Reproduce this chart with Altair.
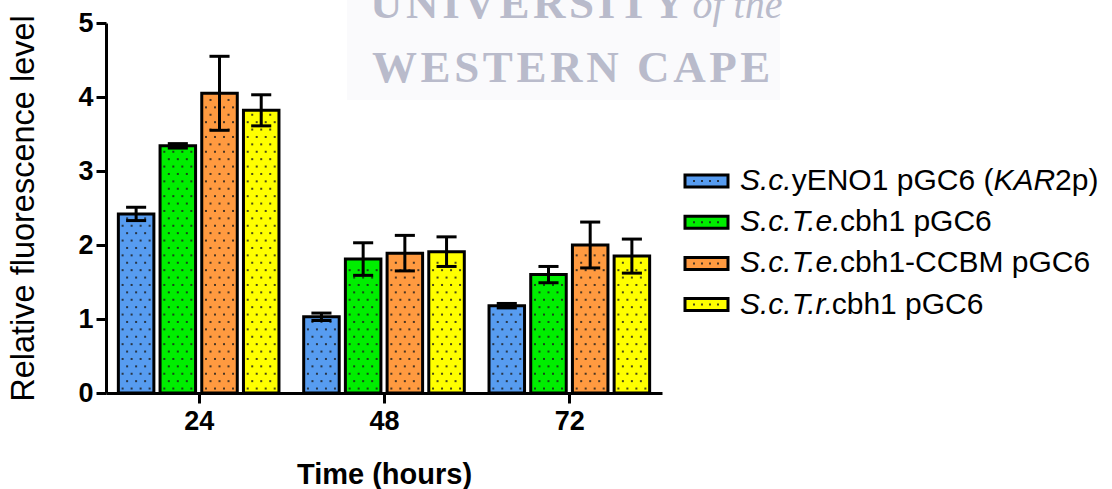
import altair as alt
import pandas as pd

# ---- data -------------------------------------------------------------
times = [24, 48, 72]
series = [
    "S.c.yENO1 pGC6 (KAR2p)",
    "S.c.T.e.cbh1 pGC6",
    "S.c.T.e.cbh1-CCBM pGC6",
    "S.c.T.r.cbh1 pGC6",
]
colors = ["#579cf0", "#00ee00", "#ff9a40", "#ffff00"]

# mean relative fluorescence at 24 / 48 / 72 h
mean_yeno1 = [2.42, 1.03, 1.18]
mean_te = [3.34, 1.81, 1.60]
mean_te_ccbm = [4.05, 1.89, 2.00]
mean_tr = [3.82, 1.91, 1.85]

# standard deviations at 24 / 48 / 72 h
sd_yeno1 = [0.09, 0.05, 0.03]
sd_te = [0.03, 0.22, 0.11]
sd_te_ccbm = [0.50, 0.24, 0.31]
sd_tr = [0.21, 0.20, 0.23]

# legend labels split into (text, italic) runs
legend_runs = [
    [("S.c.", True), ("yENO1 pGC6 (", False), ("KAR", True), ("2p)", False)],
    [("S.c.T.e.", True), ("cbh1 pGC6", False)],
    [("S.c.T.e.", True), ("cbh1-CCBM pGC6", False)],
    [("S.c.T.r.", True), ("cbh1 pGC6", False)],
]

watermark_lines = ["UNIVERSITY", "WESTERN CAPE"]
watermark_tail = "of the"

means = [mean_yeno1, mean_te, mean_te_ccbm, mean_tr]
sds = [sd_yeno1, sd_te, sd_te_ccbm, sd_tr]

# ---- layout -----------------------------------------------------------
FONT = "Liberation Sans"
W, H = 556, 370
PAD_L, PAD_T = 106, 23
PX_PER_H = W / 72.0
BAR_STEP = 5.4      # hours between neighbouring bars of a group
BAR_HALF = 2.3      # half bar width, hours
CAP_HALF = 1.3      # half error-cap width, hours

rows = []
dots = []
for si, (name, m, s) in enumerate(zip(series, means, sds)):
    off = (si - 1.5) * BAR_STEP
    for t, v, e in zip(times, m, s):
        c = t + off
        rows.append(dict(series=name, time=t, value=v, sd=e, xc=c,
                         x0=c - BAR_HALF, x1=c + BAR_HALF, base=0.0,
                         lo=v - e, hi=v + e, c0=c - CAP_HALF, c1=c + CAP_HALF))
        # stippled fill texture inside each bar
        k = 0
        y = 0.06
        while y < v - 0.05:
            cols_px = [-13.5, -4.5, 4.5, 13.5] if k % 2 == 0 else [-9.0, 0.0, 9.0]
            for px in cols_px:
                dots.append(dict(x=c + px / PX_PER_H, y=y))
            y += 0.1
            k += 1
df = pd.DataFrame(rows)
dots_df = pd.DataFrame(dots)

xs = alt.Scale(domain=[12, 84], nice=False, zero=False)
ys = alt.Scale(domain=[0, 5], nice=False)
cs = alt.Scale(domain=series, range=colors)
x_axis = alt.Axis(values=times, format="d", title="Time (hours)")
y_axis = alt.Axis(values=[0, 1, 2, 3, 4, 5], format="d",
                  title="Relative fluorescence level")

bars = alt.Chart(df).mark_rect(stroke="black", strokeWidth=3).encode(
    x=alt.X("x0:Q", scale=xs, axis=x_axis),
    x2="x1",
    y=alt.Y("value:Q", scale=ys, axis=y_axis),
    y2="base",
    color=alt.Color("series:N", scale=cs, legend=None),
)

stipple = alt.Chart(dots_df).mark_square(size=4, color="#1c1c1c", opacity=0.8).encode(
    x=alt.X("x:Q", scale=xs, axis=x_axis),
    y=alt.Y("y:Q", scale=ys, axis=y_axis),
)

err = alt.Chart(df).mark_rule(color="black", strokeWidth=3).encode(
    x=alt.X("xc:Q", scale=xs, axis=x_axis),
    y=alt.Y("lo:Q", scale=ys, axis=y_axis),
    y2="hi",
)
cap_hi = alt.Chart(df).mark_rule(color="black", strokeWidth=3).encode(
    x=alt.X("c0:Q", scale=xs, axis=x_axis), x2="c1",
    y=alt.Y("hi:Q", scale=ys, axis=y_axis),
)
cap_lo = alt.Chart(df).mark_rule(color="black", strokeWidth=3).encode(
    x=alt.X("c0:Q", scale=xs, axis=x_axis), x2="c1",
    y=alt.Y("lo:Q", scale=ys, axis=y_axis),
)

main = alt.layer(bars, stipple, err, cap_hi, cap_lo)

# ---- overlay (pixel-space scales): watermark + legend --------------------
lx = alt.Scale(domain=[0, 1000], range=[0, 1000], nice=False, zero=False)
ly = alt.Scale(domain=[0, 1000], range=[0, 1000], nice=False, zero=False)

# spaced serif watermark, laid out letter by letter
TIMES_B = {"U": 722, "N": 722, "I": 389, "V": 722, "E": 667, "R": 722,
           "S": 556, "T": 667, "Y": 722, "W": 1000, "C": 722, "A": 722,
           "P": 611, " ": 250}
WM_FS, WM_TRACK = 45, 3.6
WM_COLOR = "#b9bbcb"
wm_origins = [(264, -5.5), (266, 58.7)]
wm_letters = []
tail_x = 0
for line, (x0, yb) in zip(watermark_lines, wm_origins):
    pos = x0
    for ch in line:
        wm_letters.append(dict(ch=ch, x=pos, y=yb))
        pos += TIMES_B.get(ch, 667) / 1000.0 * WM_FS + WM_TRACK
    if line == watermark_lines[0]:
        tail_x = pos + 4
wm_df = pd.DataFrame(wm_letters)

wm_box = alt.Chart(pd.DataFrame({"x0": [241], "x1": [674], "y0": [-PAD_T], "y1": [77]})).mark_rect(
    color="#fafafc"
).encode(
    x=alt.X("x0:Q", scale=lx, axis=None), x2="x1",
    y=alt.Y("y0:Q", scale=ly, axis=None), y2="y1",
)
wm_text = alt.Chart(wm_df).mark_text(
    font="Liberation Serif", fontSize=WM_FS, fontWeight="bold", color=WM_COLOR,
    align="left", baseline="alphabetic",
).encode(
    x=alt.X("x:Q", scale=lx, axis=None),
    y=alt.Y("y:Q", scale=ly, axis=None),
    text="ch:N",
)
wm_tail = alt.Chart(pd.DataFrame({"t": [watermark_tail], "x": [tail_x], "y": [-5.5]})).mark_text(
    font="Liberation Serif", fontSize=40, fontStyle="italic", color=WM_COLOR,
    align="left", baseline="alphabetic",
).encode(
    x=alt.X("x:Q", scale=lx, axis=None),
    y=alt.Y("y:Q", scale=ly, axis=None),
    text="t:N",
)

# legend with mixed italic runs
ARIAL_W = {
    "S": 667, ".": 278, "c": 500, "y": 500, "E": 667, "N": 722, "O": 778,
    "1": 556, " ": 278, "p": 556, "G": 778, "C": 722, "6": 556, "(": 333,
    "K": 667, "A": 667, "R": 722, "2": 556, ")": 333, "T": 611, "e": 556,
    "b": 556, "h": 556, "-": 333, "M": 833, "r": 333, "B": 667,
}
KERN = {("T", "."): -111, ("r", "."): -55}


def run_width(txt, fs):
    w = sum(ARIAL_W.get(ch, 556) for ch in txt)
    w += sum(KERN.get((a, b), 0) for a, b in zip(txt, txt[1:]))
    return w / 1000.0 * fs


LEG_FS = 30
LEG_TEXT_X = 634
LEG_Y0, LEG_DY = 158, 41.2
SW_X0, SW_X1 = 579, 622

sw_rows, run_rows, sw_dots = [], [], []
for i, (name, runs) in enumerate(zip(series, legend_runs)):
    yc = LEG_Y0 + i * LEG_DY
    sw_rows.append(dict(series=name, x0=SW_X0, x1=SW_X1, y0=yc - 6, y1=yc + 6))
    for dx in (9, 17, 25, 33):
        sw_dots.append(dict(x=SW_X0 + dx, y=yc))
    pos = LEG_TEXT_X
    for txt, ital in runs:
        run_rows.append(dict(text=txt, italic=ital, x=pos, y=yc))
        pos += run_width(txt, LEG_FS)
sw_df = pd.DataFrame(sw_rows)
run_df = pd.DataFrame(run_rows)
sw_dot_df = pd.DataFrame(sw_dots)

leg_sw = alt.Chart(sw_df).mark_rect(stroke="black", strokeWidth=3).encode(
    x=alt.X("x0:Q", scale=lx, axis=None), x2="x1",
    y=alt.Y("y0:Q", scale=ly, axis=None), y2="y1",
    color=alt.Color("series:N", scale=cs, legend=None),
)
leg_dots = alt.Chart(sw_dot_df).mark_square(size=4, color="#1c1c1c", opacity=0.8).encode(
    x=alt.X("x:Q", scale=lx, axis=None),
    y=alt.Y("y:Q", scale=ly, axis=None),
)
leg_it = alt.Chart(run_df).transform_filter("datum.italic").mark_text(
    font=FONT, fontSize=LEG_FS, fontStyle="italic", color="black",
    align="left", baseline="middle",
).encode(
    x=alt.X("x:Q", scale=lx, axis=None),
    y=alt.Y("y:Q", scale=ly, axis=None),
    text="text:N",
)
leg_rm = alt.Chart(run_df).transform_filter("!datum.italic").mark_text(
    font=FONT, fontSize=LEG_FS, color="black",
    align="left", baseline="middle",
).encode(
    x=alt.X("x:Q", scale=lx, axis=None),
    y=alt.Y("y:Q", scale=ly, axis=None),
    text="text:N",
)
overlay = alt.layer(wm_box, wm_text, wm_tail, leg_sw, leg_dots, leg_it, leg_rm)

chart = (
    alt.layer(main, overlay)
    .resolve_scale(x="independent", y="independent")
    .properties(
        width=W,
        height=H,
        padding={"left": PAD_L, "top": PAD_T, "right": 1112 - PAD_L - W,
                 "bottom": 489 - PAD_T - H},
        autosize=alt.AutoSizeParams(type="none"),
        background="white",
    )
    .configure_view(stroke=None)
    .configure_axis(
        grid=False, domainColor="black", domainWidth=3,
        tickColor="black", tickWidth=3, tickSize=10,
        labelFont=FONT, labelFontSize=27, labelFontWeight="bold",
        labelColor="black", titleFont=FONT, titleColor="black",
    )
    .configure_axisX(labelPadding=5, titleFontSize=29, titleFontWeight="bold",
                     titleY=90, titleBaseline="alphabetic")
    .configure_axisY(labelPadding=3, titleFontSize=32.5, titleFontWeight="normal",
                     titleX=-73, titleBaseline="alphabetic")
)

chart.save("out.html", embed_options={"renderer": "svg", "actions": False})
